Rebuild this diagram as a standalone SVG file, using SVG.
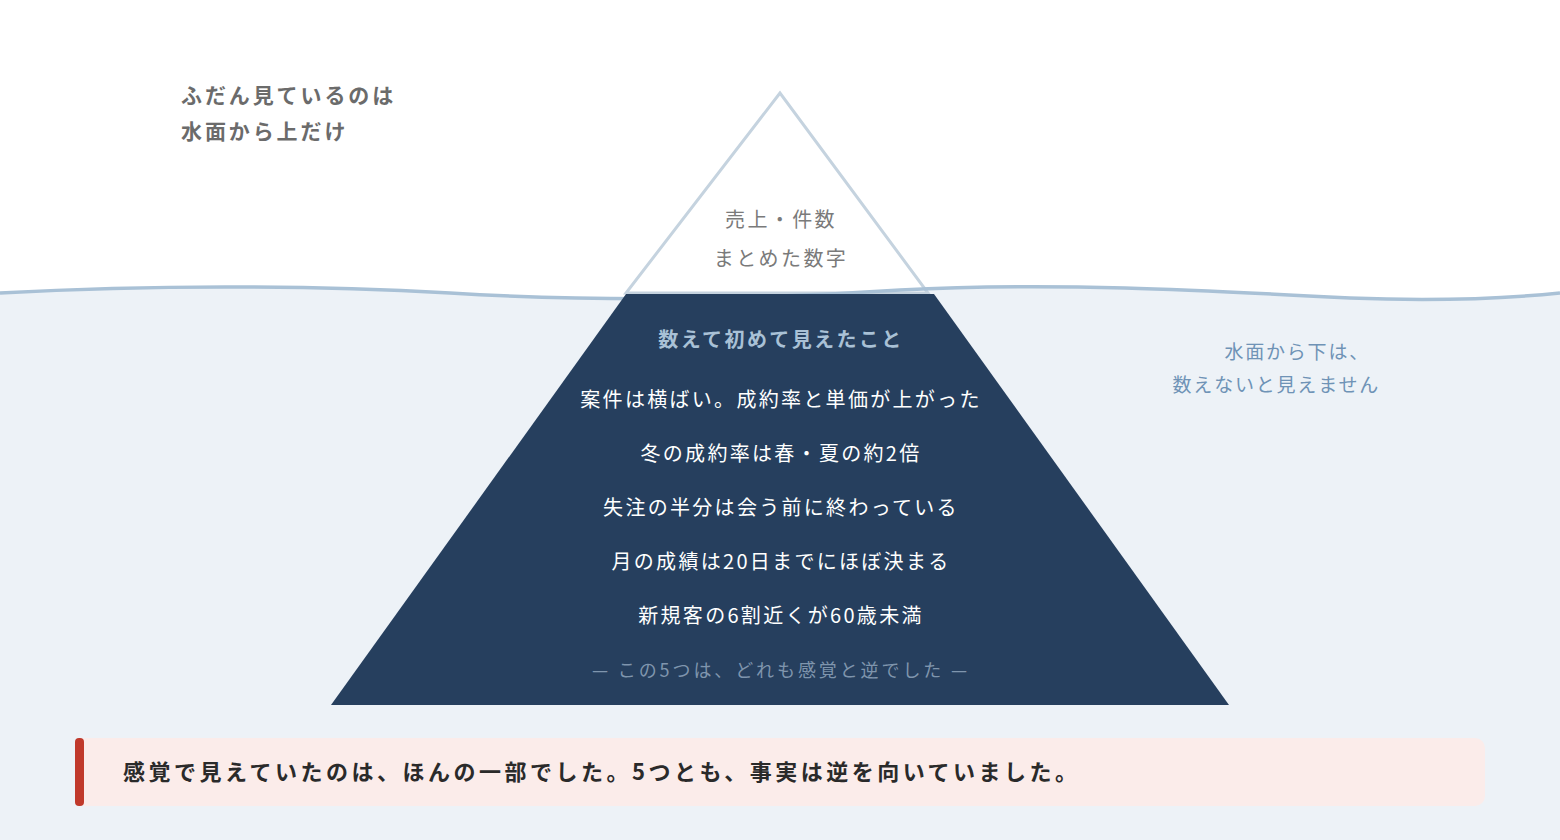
<svg xmlns="http://www.w3.org/2000/svg" width="1560" height="840" viewBox="0 0 1560 840">
<style>
text{font-family:"Noto Sans CJK JP","Noto Sans",sans-serif}
.in{fill:#ffffff;font-size:20px;text-anchor:middle;letter-spacing:2.3px}
</style>
<rect width="1560" height="840" fill="#ffffff"/>
<path d="M0,293 C150,285 300,285 450,293 C600,302 750,300 900,290 C1050,282 1200,290 1350,298 C1450,302 1520,297 1560,293 L1560,840 L0,840 Z" fill="#edf2f7"/>
<g id="tip">
<polygon points="780,93 626,293 928,293" fill="#ffffff" stroke="#c5d3df" stroke-width="3"/>
<text x="781" y="227" text-anchor="middle" font-size="20" letter-spacing="2.4" fill="#7a7a7a">売上・件数</text>
<text x="781" y="266" text-anchor="middle" font-size="20" letter-spacing="2.4" fill="#7a7a7a">まとめた数字</text>
</g>
<g id="connectors">
<path d="M0,293 C150,285 300,285 450,293 C600,302 750,300 900,290 C1050,282 1200,290 1350,298 C1450,302 1520,297 1560,293" fill="none" stroke="#a9c1d6" stroke-width="3.5"/>
</g>
<g id="base">
<polygon points="626,294 934,294 1229,705 331,705" fill="#263f5e"/>
<text x="781" y="347" text-anchor="middle" font-size="20" font-weight="bold" letter-spacing="2.4" fill="#a9c1d6">数えて初めて見えたこと</text>
<text class="in" x="781" y="407">案件は横ばい。成約率と単価が上がった</text>
<text class="in" x="781" y="461">冬の成約率は春・夏の約2倍</text>
<text class="in" x="781" y="515">失注の半分は会う前に終わっている</text>
<text class="in" x="781" y="569">月の成績は20日までにほぼ決まる</text>
<text class="in" x="781" y="623">新規客の6割近くが60歳未満</text>
<text x="781" y="677" text-anchor="middle" font-size="18" letter-spacing="2.9" fill="#7f95ad">— この5つは、どれも感覚と逆でした —</text>
</g>
<g id="note-top">
<text x="181" y="103" font-size="21" font-weight="bold" letter-spacing="2.9" fill="#6b6b6b">ふだん見ているのは</text>
<text x="181" y="139" font-size="21" font-weight="bold" letter-spacing="2.9" fill="#6b6b6b">水面から上だけ</text>
</g>
<g id="note-bottom">
<text x="1370" y="359" text-anchor="end" font-size="19" letter-spacing="1.8" fill="#6f93b6">水面から下は、</text>
<text x="1380" y="392" text-anchor="end" font-size="19" letter-spacing="1.8" fill="#6f93b6">数えないと見えません</text>
</g>
<g id="banner">
<rect x="75" y="738" width="1410" height="68" rx="10" fill="#fbecea"/>
<rect x="75" y="738" width="9" height="68" rx="4" fill="#c0392b"/>
<text x="123" y="780" font-size="22" font-weight="bold" letter-spacing="3.5" fill="#2a2a2a">感覚で見えていたのは、ほんの一部でした。5つとも、事実は逆を向いていました。</text>
</g>
</svg>
